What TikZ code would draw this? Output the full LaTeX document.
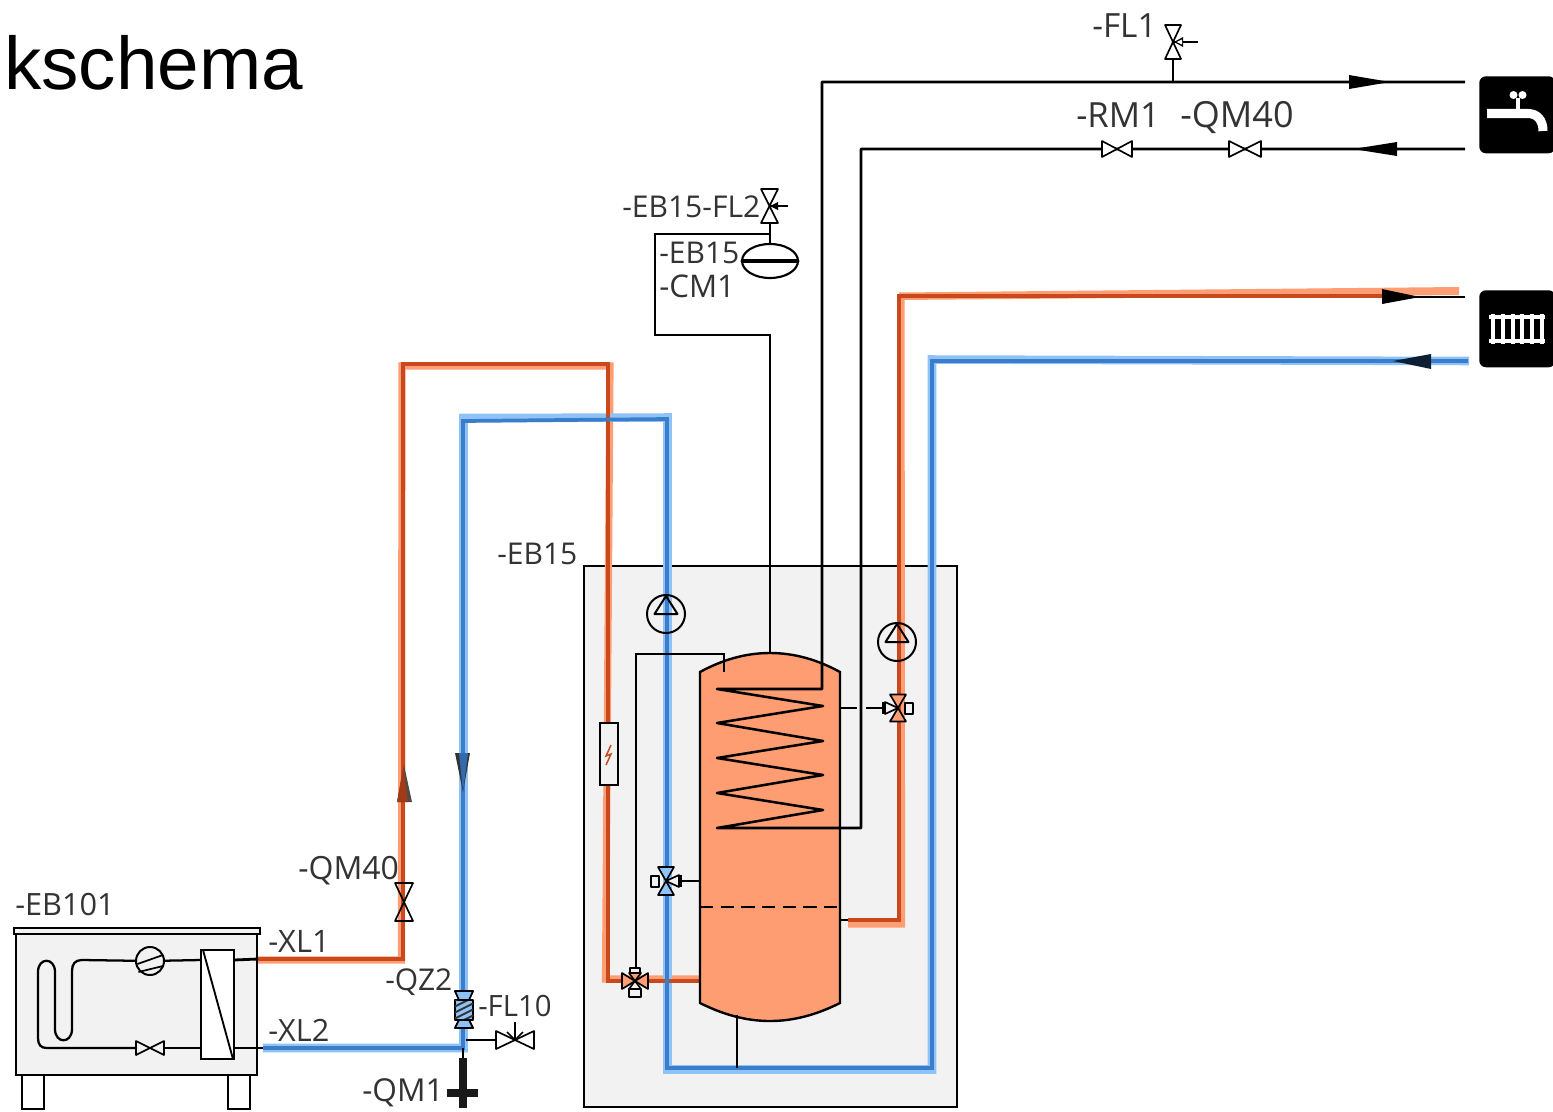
\documentclass[tikz,border=0pt]{standalone}
\usetikzlibrary{shapes.geometric}
\usepackage{fontspec}
\setmainfont{Open Sans}
\newfontfamily\titlefont{Liberation Sans}
\definecolor{bandor}{HTML}{FF9E74}
\definecolor{darkor}{HTML}{C9481C}
\definecolor{bandbl}{HTML}{8FC3F7}
\definecolor{darkbl}{HTML}{3A7DCB}
\definecolor{boxgrey}{HTML}{F2F2F2}
\definecolor{tankor}{HTML}{FF9D72}
\definecolor{txt}{HTML}{333333}
\tikzset{
  lab/.style={anchor=base west,inner sep=0pt,text=txt,font=\fontsize{22.5}{24}\selectfont},
  labsize/.style={font=\fontsize{#1}{#1}\selectfont},
  pipe/.style={line width=2.1pt,black,line join=miter},
  orband/.style={line width=5.4pt,bandor,line join=miter},
  ordark/.style={line width=2.6pt,darkor,line join=miter},
  blband/.style={line width=6.4pt,bandbl,line join=miter},
  bldark/.style={line width=2.8pt,darkbl,line join=miter},
  sym/.style={line width=1.25pt,draw=black,line join=round},
  pics/vvalve/.style n args={3}{code={%
    \draw[sym,fill=#3] (-#1,-#2)--(#1,-#2)--(-#1,#2)--(#1,#2)--cycle;}},
  pics/hvalve/.style n args={3}{code={%
    \draw[sym,fill=#3] (-#1,-#2)--(-#1,#2)--(#1,-#2)--(#1,#2)--cycle;}},
  pics/pumpsym/.style={code={%
    \draw[line width=1.5pt] (0,0) circle (19);
    \draw[line width=1.5pt,line join=round] (0,-18)--(-11.5,0)--(11.5,0)--cycle;}},
}
\begin{document}
\begin{tikzpicture}[x=0.75pt,y=-0.75pt]
\useasboundingbox (0,0) rectangle (1553,1111);
\fill[white] (0,0) rectangle (1553,1111);

% named junctions
\coordinate (xlone) at (258,959);
\coordinate (xltwo) at (263,1048);
\coordinate (ortl) at (403,959);
\coordinate (ortr) at (403,364);
\coordinate (ortc) at (608,364);
\coordinate (orbl) at (608,981);
\coordinate (tankin) at (700,981);
\coordinate (blb) at (463,1048);
\coordinate (blt) at (463,421);
\coordinate (bltr) at (667,419);
\coordinate (blbr) at (667,1068);
\coordinate (blbe) at (932,1068);
\coordinate (blte) at (932,361);
\coordinate (blend) at (1468,361);
\coordinate (toutA) at (840,920);
\coordinate (toutB) at (899,920);
\coordinate (toutC) at (899,296);
\coordinate (toutD) at (1465,297);

\node[lab,font=\titlefont\fontsize{56}{58}\selectfont,text=black] (title) at (4,89) {kschema};

% box
\node[draw=black,line width=1.6pt,fill=boxgrey,minimum width=373*0.75pt,minimum height=541*0.75pt,inner sep=0pt,anchor=north west] (ebbox) at (583,565) {};

% colored pipes: bands
\draw[orband] (258,960) -- (401.5,960) -- (402,366) -- (610,366) -- (605.5,979) -- (700,979);
\draw[blband] (263,1048) -- (463.5,1048) -- (463.5,418) -- (667.5,417.5) -- (667.5,1069.5) -- (932,1069.5) -- (932,359.5) -- (1469,361);
\draw[orband] (848,924) -- (901.5,924) -- (901,296);
\fill[bandor] (899,292.5) -- (1459,287) -- (1459,295) -- (899,300) -- cycle;

% dark lines
\draw[ordark] (xlone) -- (ortl) -- (ortr) -- (ortc) -- (orbl) -- (tankin);
\draw[bldark] (xltwo) -- (blb) -- (blt) -- (bltr) -- (blbr) -- (blbe) -- (blte) -- (blend);
\draw[ordark] (848,920) -- (toutB) -- (toutC) -- (1385,296);
\draw[pipe,line width=1.6pt] (1385,297) -- (toutD);
\draw[pipe,line width=1.6pt] (toutA) -- (848,920);

% tank
\draw[pipe,line width=1.8pt,fill=tankor] (700,672) .. controls (722,660) and (745,653) .. (770,653) .. controls (795,653) and (818,660) .. (840,672) -- (840,1003) .. controls (818,1014) and (795,1021) .. (770,1021) .. controls (745,1021) and (722,1014) .. (700,1003) -- cycle;
\draw[pipe,dashed,dash pattern=on 10pt off 5.5pt,line width=2pt] (700,907) -- (840,907);

% coil and cold/hot water
\coordinate (coilA) at (717,689);
\coordinate (coilB) at (822,689);
\coordinate (coilZ) at (717,828);
\coordinate (hw) at (822,82);
\coordinate (hwend) at (1465,82);
\coordinate (cw) at (861,828);
\coordinate (cwt) at (861,149);
\coordinate (cwend) at (1465,149);
\draw[pipe,line join=round,line width=1.9pt] (hwend) -- (hw) -- (coilB) -- (coilA) -- (823,706) -- (717,723) -- (823,741) -- (717,758) -- (823,775) -- (717,793) -- (823,810) -- (coilZ) -- (cw) -- (cwt) -- (cwend);
\fill[black] (1349,75) -- (1390,82) -- (1349,89) -- cycle;
\fill[black] (1397,142) -- (1353,149) -- (1397,156) -- cycle;

% expansion line
\coordinate (expA) at (770,653);
\coordinate (expB) at (770,335);
\coordinate (expC) at (655,335);
\coordinate (expD) at (655,234);
\coordinate (expE) at (770,234);
\coordinate (flt) at (769.5,206);
\draw[pipe] (expA) -- (expB) -- (expC) -- (expD) -- (expE) -- (770,223);
\draw[pipe] (expE) -- (770,246);
\node[draw=black,line width=1.6pt,fill=white,ellipse,minimum width=56*0.75pt,minimum height=34*0.75pt,inner sep=0pt] (cmone) at (770,261) {};
\draw[line width=3.6pt,black,line cap=round] (743,261) -- (797,261);
\pic at (flt) {vvalve={8.5}{17}{white}};
\draw[pipe,line width=1.5pt] (788,206) -- (flt);
\fill[black] (770,206) -- (778,202) -- (778,210) -- cycle;

% return line to lower tank
\coordinate (rlA) at (636,968);
\coordinate (rlB) at (636,654);
\coordinate (rlC) at (724,654);
\coordinate (rlD) at (724,672);
\draw[pipe] (rlA) -- (rlB) -- (rlC) -- (rlD);

% pumps
\pic at (666,614) {pumpsym};
\pic at (897,642) {pumpsym};

% heater
\node[draw=black,line width=1.4pt,fill=boxgrey,minimum width=18*0.75pt,minimum height=62*0.75pt,inner sep=0pt] (heater) at (609,754) {};
\draw[darkor,line width=1.1pt] (611,745) -- (606,756) -- (611,754) -- (606,765);

% valve right with gapped sensor line
\coordinate (srA) at (840,708);
\coordinate (srB) at (857,708);
\coordinate (srC) at (866,708);
\coordinate (srD) at (885,708);
\draw[pipe] (srA) -- (srB);
\draw[pipe] (srC) -- (srD);
\begin{scope}[shift={(898,708)}]
\draw[sym,fill=bandor] (-8,-13.5)--(8,-13.5)--(-8,13.5)--(8,13.5)--cycle;
\draw[sym,fill=boxgrey] (-13,-6)--(-13,6)--(0,0)--cycle;
\draw[sym] (-15,-6)--(-15,6);
\draw[sym,fill=boxgrey] (7,-5) rectangle (15,6);
\end{scope}
% valve left blue
\coordinate (svA) at (700,881);
\coordinate (svB) at (680,881);
\draw[pipe] (svA) -- (svB);
\begin{scope}[shift={(666,881)}]
\draw[sym,fill=bandbl] (-8,-14)--(8,-14)--(-8,14)--(8,14)--cycle;
\draw[sym,fill=boxgrey] (13,-6)--(13,6)--(0,0)--cycle;
\draw[sym] (15,-6)--(15,6);
\draw[sym,fill=boxgrey] (-15,-5) rectangle (-7,6);
\end{scope}
% three-way valve
\begin{scope}[shift={(635,981)}]
\draw[sym,fill=bandor] (-13,-8)--(-13,8)--(13,-8)--(13,8)--cycle;
\draw[sym,fill=bandor] (-6,-8)--(6,-8)--(0,0)--cycle;
\draw[sym,fill=boxgrey] (-6,8) rectangle (6,16);
\draw[sym,fill=boxgrey] (-5,-13)--(5,-13)--(5,-8)--(-5,-8)--cycle;
\draw[sym] (0,0)--(-6,8);\draw[sym] (0,0)--(6,8);
\end{scope}
\draw[pipe] (737,1015) -- (737,1068);

% QM40 valve left: open symbol, the pipe shows through
\coordinate (qmf) at (404,902);
\pic at (qmf) {vvalve={9}{19}{none}};

% direction arrows
\fill[black!70] (404,765) -- (412,802) -- (397,802) -- cycle;
\fill[darkor!80!black] (403.5,765) -- (408,802) -- (397,802) -- cycle;
\fill[black!80] (455,753) -- (470,753) -- (463,792) -- cycle;
\fill[darkbl!85!black] (459,753) -- (468,753) -- (463,792) -- cycle;
\fill[black] (1382,289) -- (1420,297) -- (1382,304) -- cycle;
\fill[darkbl!25!black] (1431,354) -- (1393,361) -- (1431,369) -- cycle;

% EB101
\coordinate (hxin) at (234,960);
\coordinate (hxout) at (234,1048);
\draw[pipe,fill=white,line width=1.6pt] (22,1075) rectangle (44,1109);
\draw[pipe,fill=white,line width=1.6pt] (228,1075) rectangle (250,1109);
\draw[pipe,fill=boxgrey,line width=1.8pt] (16,934) rectangle (257,1075);
\draw[pipe,fill=boxgrey,line width=1.8pt] (14,928) rectangle (260,934);
\draw[pipe] (hxin) -- (xlone);
\draw[pipe] (hxout) -- (xltwo);
\node[draw=black,line width=1.6pt,fill=white,minimum width=33*0.75pt,minimum height=109*0.75pt,inner sep=0pt,anchor=north west] (hx) at (200,949) {};
\draw[line width=1.4pt] (203,950) -- (233,1059);
\node[draw=black,line width=1.5pt,fill=boxgrey,circle,minimum size=28*0.75pt,inner sep=0pt] (comp) at (150,961) {};
\draw[line width=1.3pt] (137.5,964) -- (163,955);
\draw[line width=1.3pt] (138.5,972) -- (163,966);
\draw[pipe,line width=1.7pt] (comp) -- (201,960);
\draw[pipe,line width=1.7pt] (comp) -- (82,960) .. controls (75,960) and (72,964) .. (72,971) -- (72,1029) .. controls (72,1044) and (55,1044) .. (55,1029) -- (55,972) .. controls (55,957) and (38,957) .. (38,972) -- (38,1038) .. controls (38,1045) and (41,1048) .. (47,1048) -- (136,1048);
\draw[pipe,line width=1.7pt] (164,1048) -- (201,1048);
\pic at (150,1048) {hvalve={14}{7}{boxgrey}};

% QZ2 and FL10
\coordinate (qzc) at (464,1010);
\begin{scope}[shift={(qzc)}]
\draw[sym,fill=bandbl] (-9,-19)--(9,-19)--(-9,18)--(9,18)--cycle;
\draw[sym,fill=bandbl] (-9,-10) rectangle (9,10);
\begin{scope}
\clip (-9,-10) rectangle (9,10);
\foreach \k in {-15,-9,...,21} \draw[line width=1.4pt,black!80] (-10,\k) -- (10,\k-10);
\end{scope}
\draw[sym,fill=bandbl] (-5,10) -- (5,10) -- (9,18) -- (-9,18) -- cycle;
\draw[sym,fill=bandbl] (-5,-10) -- (5,-10) -- (9,-19) -- (-9,-19) -- cycle;
\end{scope}
\coordinate (flvalve) at (515,1040);
\coordinate (flj) at (466,1040);
\coordinate (flarrow) at (515,1022);
\pic at (flvalve) {hvalve={19}{9}{white}};
\draw[pipe,line width=1.5pt] (flj) -- (496,1040);
\draw[pipe,line width=1.5pt] (flarrow) -- (flvalve);
\draw[line width=1.3pt] (507,1032) -- (515,1040) -- (523,1032);

% QM1
\coordinate (qmt) at (463,1048);
\coordinate (qmm) at (463,1058);
\coordinate (qmb) at (463,1108);
\draw[pipe,line width=1.5pt] (qmt) -- (qmm);
\draw[line width=5.5pt,black!90] (qmm) -- (qmb);
\draw[line width=5.5pt,black!90] (447,1093) -- (478,1093);

% upper valves
\coordinate (flone) at (1173,42);
\coordinate (flonej) at (1173,82);
\draw[pipe] (flonej) -- (1173,58);
\pic at (flone) {vvalve={8}{17}{white}};
\draw[pipe,line width=1.5pt] (1198,42) -- (flone);
\fill[black] (1174,42) -- (1183,37) -- (1183,47) -- cycle;
\fill[white] (1176.5,42) -- (1182,39.5) -- (1182,44.5) -- cycle;
\pic at (1117,149) {hvalve={15}{8}{white}};
\draw[line width=1.25pt] (1102,141) -- (1102,157);
\pic at (1245,149) {hvalve={16}{8}{white}};

% icons
\node[fill=black,rounded corners=5pt,minimum width=76*0.75pt,minimum height=77*0.75pt,inner sep=0pt,anchor=north west] (tap) at (1479,76) {};
\draw[white,line width=6.8pt] (1487,113.5) -- (1528,113.5) .. controls (1537,113.5) and (1543,120) .. (1543,131);
\draw[white,line width=2.5pt] (1518,98) -- (1518,110);
\fill[white] (1513.5,95) circle (4);
\fill[white] (1522.5,95) circle (4);
\node[fill=black,rounded corners=5pt,minimum width=76*0.75pt,minimum height=77*0.75pt,inner sep=0pt,anchor=north west] (radi) at (1479,290) {};
\draw[white,line width=2.8pt] (1489,317) -- (1545,317);
\draw[white,line width=2.8pt] (1489,341) -- (1545,341);
\foreach \x in {1493,1503,1513,1522,1532,1542} \draw[white,line width=3pt] (\x,314) -- (\x,344);

% labels
\node[lab,labsize=25] (l1) at (1092,37) {-FL1};
\node[lab,labsize=26] (l2) at (1076,127) {-RM1};
\node[lab,labsize=27] (l3) at (1180,127) {-QM40};
\node[lab] (l4) at (622,217) {-EB15-FL2};
\node[lab] (l5) at (659,263) {-EB15};
\node[lab,labsize=23.4] (l6) at (659,297) {-CM1};
\node[lab] (l7) at (497,564) {-EB15};
\node[lab,labsize=24] (l8) at (298,879) {-QM40};
\node[lab,labsize=23] (l9) at (15,915) {-EB101};
\node[lab,labsize=23.2] (l10) at (268,952) {-XL1};
\node[lab,labsize=23] (l11) at (268,1041) {-XL2};
\node[lab] (l12) at (385,990) {-QZ2};
\node[lab,labsize=22] (l13) at (478,1016) {-FL10};
\node[lab,labsize=23.7] (l14) at (362,1101) {-QM1};
\end{tikzpicture}
\end{document}
